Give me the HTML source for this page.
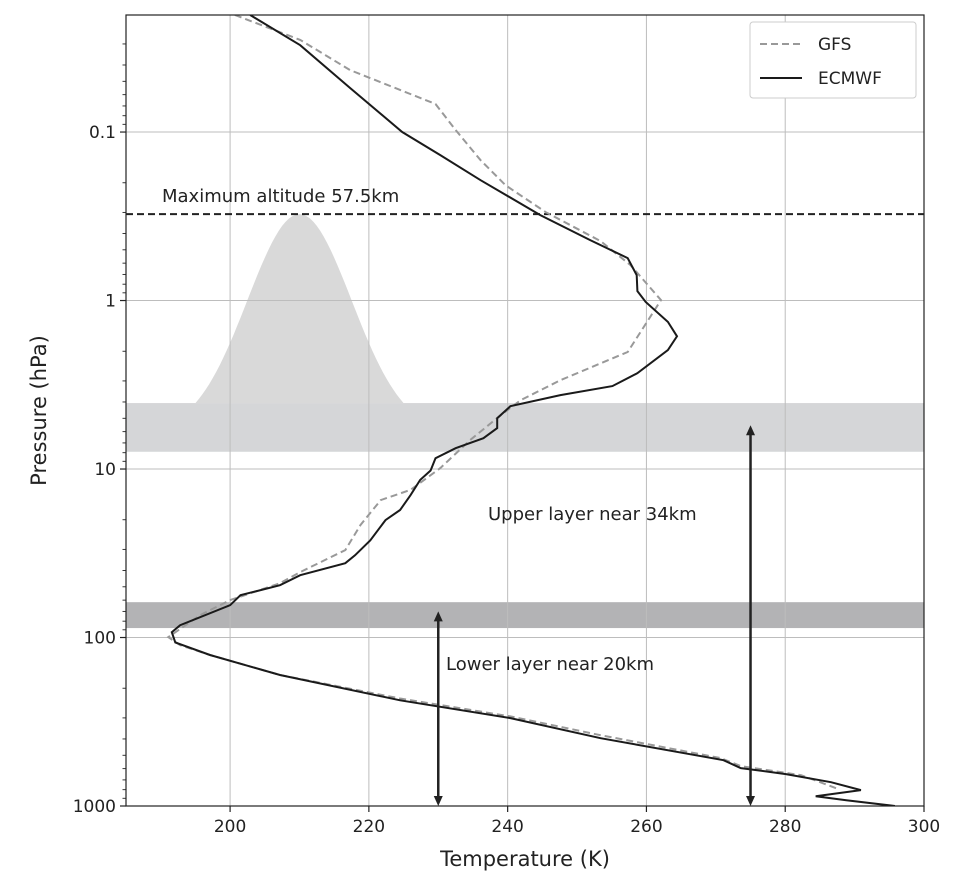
<!DOCTYPE html>
<html><head><meta charset="utf-8"><style>
html,body{margin:0;padding:0;background:#fff;}
svg{display:block;font-family:"DejaVu Sans","Liberation Sans",sans-serif;}
</style></head><body>
<svg id="chart" width="978" height="879" viewBox="0 0 978 879"></svg>
<script>
// ---- data ----
const xTicks = [200, 220, 240, 260, 280, 300];
const yTicks = [0.1, 1, 10, 100, 1000];
const yTickLabels = ["0.1", "1", "10", "100", "1000"];
const ecmwfT = [202.9,210.1,217.3,224.8,230.3,236.1,244.7,251.9,257.3,258.6,258.7,259.9,263.1,264.4,263.1,258.7,255.1,247.6,240.4,238.5,238.5,236.5,232.5,229.6,228.9,227.4,226.0,224.5,222.4,220.2,218.0,216.6,210.1,207.2,201.5,200.0,192.8,191.6,192.1,197.1,207.2,224.5,240.4,253.4,271.1,273.6,280.1,286.6,290.9,284.4,288.8,295.8];
const ecmwfP = [0.0202,0.0305,0.0548,0.100,0.137,0.193,0.311,0.438,0.560,0.706,0.879,1.02,1.34,1.63,1.97,2.70,3.22,3.64,4.24,4.99,5.72,6.56,7.52,8.63,10.2,11.6,14.3,17.5,20.1,26.5,32.5,36.2,42.7,48.9,56.1,64.3,84.5,93.0,107,127,167,236,301,396,535,596,647,722,805,875,925,1000];
const gfsT = [200.7,210.1,217.3,229.6,232.5,236.1,239.7,245.5,253.4,257.7,262.1,257.3,247.6,241.9,239.0,234.6,230.3,226.0,221.7,218.8,216.6,210.1,207.2,200.0,195.7,191.1,192.8,197.1,207.2,224.5,240.4,253.4,270.7,273.6,282.3,287.7];
const gfsP = [0.0202,0.0284,0.0429,0.0682,0.0973,0.147,0.207,0.299,0.444,0.616,0.994,2.02,2.97,3.90,4.79,6.73,9.87,13.3,15.3,21.5,30.3,40.9,47.6,60.0,73.6,99.5,111,127,167,230,294,380,520,580,656,794];
const maxAltP = 0.307;
const upperBand = [4.06, 7.9];
const lowerBand = [61.7, 87.9];
const bumpCenterT = 210, bumpWidthT = 15, bumpBaseP = 4.06, bumpPeakP = 0.307;
const lowerArrow = {T: 230, pTop: 70, pBot: 1000};
const upperArrow = {T: 275, pTop: 5.5, pBot: 1000};

// ---- axes ----
const L=126,R=924,T0=15,B=806;
const xMin=185,xMax=300, yMinLog=Math.log10(0.0202), yMaxLog=3;
const sx=v=>L+(v-xMin)/(xMax-xMin)*(R-L);
const sy=p=>T0+(Math.log10(p)-yMinLog)/(yMaxLog-yMinLog)*(B-T0);
const svg=document.getElementById('chart');
const NS='http://www.w3.org/2000/svg';
function mk(tag,attrs,parent){const e=document.createElementNS(NS,tag);for(const k in attrs)e.setAttribute(k,attrs[k]);(parent||svg).appendChild(e);return e;}

const clip=mk('clipPath',{id:'pc'});mk('rect',{x:L,y:T0,width:R-L,height:B-T0},clip);
const plot=mk('g',{'clip-path':'url(#pc)'});



// bands
let b1=mk('rect',{x:L,y:sy(upperBand[0]),width:R-L,height:sy(upperBand[1])-sy(upperBand[0]),fill:'#d5d6d8'},plot);


let b2=mk('rect',{x:L,y:sy(lowerBand[0]),width:R-L,height:sy(lowerBand[1])-sy(lowerBand[0]),fill:'#b3b3b5'},plot);


// bump
let d='';const y0=sy(bumpBaseP),yp=sy(bumpPeakP);
const g0=Math.exp(-(2.0*2.0)/2);
for(let i=0;i<=60;i++){const t=bumpCenterT-bumpWidthT+i*(2*bumpWidthT/60);const z=(t-bumpCenterT)/(bumpWidthT/2.0);const g=(Math.exp(-z*z/2)-g0)/(1-g0);const y=y0+(yp-y0)*g;d+=(i?'L':'M')+sx(t).toFixed(1)+' '+y.toFixed(1);}
d+='Z';
let bump=mk('path',{d:d,fill:'#d9d9d9'},plot);



// grid
xTicks.forEach(v=>{let g=mk('line',{x1:sx(v),x2:sx(v),y1:T0,y2:B,stroke:'#bdbdbd','stroke-width':1},plot);});
yTicks.forEach(v=>{let g=mk('line',{x1:L,x2:R,y1:sy(v),y2:sy(v),stroke:'#bdbdbd','stroke-width':1},plot);});

// max altitude line
let ml=mk('line',{x1:L,x2:R,y1:sy(maxAltP),y2:sy(maxAltP),stroke:'#222','stroke-width':2,'stroke-dasharray':'7,4'},plot);



function line(Ts,Ps,attrs,name){const d=Ts.map((t,i)=>(i?'L':'M')+sx(t).toFixed(1)+' '+sy(Ps[i]).toFixed(1)).join('');const p=mk('path',Object.assign({d:d,fill:'none'},attrs),plot);}
line(gfsT,gfsP,{stroke:'#999','stroke-width':2,'stroke-dasharray':'7,4'},'gfs-line');
line(ecmwfT,ecmwfP,{stroke:'#1a1a1a','stroke-width':2},'ecmwf-line');

// arrows
function arrow(a,name){const x=sx(a.T),y1=sy(a.pTop),y2=sy(a.pBot);const g=mk('g',{},plot);
mk('line',{x1:x,x2:x,y1:y1+6,y2:y2-6,stroke:'#222','stroke-width':2.5},g);
mk('path',{d:`M${x-4.5} ${y1+10}L${x} ${y1}L${x+4.5} ${y1+10}Z`,fill:'#222'},g);
mk('path',{d:`M${x-4.5} ${y2-10}L${x} ${y2}L${x+4.5} ${y2-10}Z`,fill:'#222'},g);}
arrow(lowerArrow,'lower-layer-arrow');
arrow(upperArrow,'upper-layer-arrow');

function txt(s,attrs,name,parent){const t=mk('text',attrs,parent);t.textContent=s;return t;}
txt('Maximum altitude 57.5km',{x:162,y:202,'font-size':18,fill:'#222'},'max-altitude-label');
txt('Upper layer near 34km',{x:488,y:520,'font-size':18,fill:'#222'},'upper-layer-label');
txt('Lower layer near 20km',{x:446,y:670,'font-size':18,fill:'#222'},'lower-layer-label');

// frame
let fr=mk('rect',{x:L,y:T0,width:R-L,height:B-T0,fill:'none',stroke:'#222','stroke-width':1.2});



// ticks
xTicks.forEach(v=>{mk('line',{x1:sx(v),x2:sx(v),y1:B,y2:B+6,stroke:'#222','stroke-width':1.2});txt(String(v),{x:sx(v),y:B+26,'font-size':17,'text-anchor':'middle',fill:'#222'},'x-tick-label');});
yTicks.forEach((v,i)=>{mk('line',{x1:L-6,x2:L,y1:sy(v),y2:sy(v),stroke:'#222','stroke-width':1.2});txt(yTickLabels[i],{x:L-10,y:sy(v)+6,'font-size':17,'text-anchor':'end',fill:'#222'},'y-tick-label');});
for(let e=-2;e<3;e++){for(let m=2;m<10;m++){const p=m*Math.pow(10,e);if(p<0.0202)continue;mk('line',{x1:L-3.5,x2:L,y1:sy(p),y2:sy(p),stroke:'#222','stroke-width':0.9});}}
txt('Temperature (K)',{x:(L+R)/2,y:866,'font-size':21,'text-anchor':'middle',fill:'#222'},'x-axis-title');
txt('Pressure (hPa)',{x:0,y:0,'font-size':21,'text-anchor':'middle',fill:'#222',transform:`translate(46,${(T0+B)/2}) rotate(-90)`},'y-axis-title');

// legend
const lg=mk('g',{});
mk('rect',{x:750,y:22,width:166,height:76,rx:3,fill:'#fff',stroke:'#ccc','stroke-width':1},lg);
const e1=mk('g',{},lg);
mk('line',{x1:760,x2:802,y1:44,y2:44,stroke:'#999','stroke-width':2,'stroke-dasharray':'7,4'},e1);
txt('GFS',{x:818,y:50,'font-size':17,fill:'#222'},'legend-label-gfs',e1);
const e2=mk('g',{},lg);
mk('line',{x1:760,x2:802,y1:78,y2:78,stroke:'#1a1a1a','stroke-width':2},e2);
txt('ECMWF',{x:818,y:84,'font-size':17,fill:'#222'},'legend-label-ecmwf',e2);
</script>
</body></html>
